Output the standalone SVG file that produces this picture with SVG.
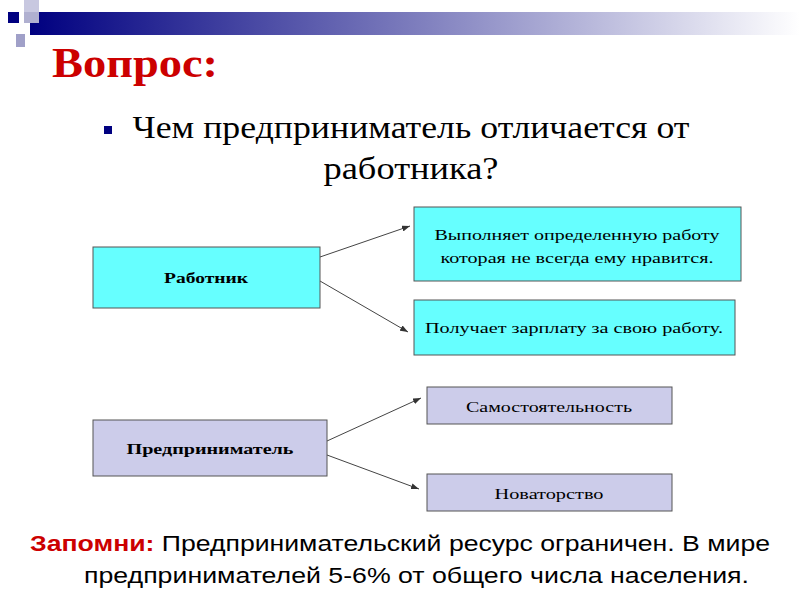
<svg xmlns="http://www.w3.org/2000/svg" width="800" height="600" viewBox="0 0 800 600">
<defs>
<linearGradient id="bar" x1="0" x2="1" y1="0" y2="0"><stop offset="0" stop-color="#000080"/><stop offset="0.5" stop-color="#7d7dbd"/><stop offset="1" stop-color="#ffffff"/></linearGradient>
<marker id="ah" markerWidth="8" markerHeight="6" refX="8" refY="3" orient="auto" markerUnits="userSpaceOnUse"><path d="M0,0 L8,3 L0,6 z" fill="#333"/></marker>
</defs>
<style>
.s{font-family:"Liberation Serif",serif;font-size:15px;fill:#000;text-anchor:middle}
.b{font-weight:bold}
.box{stroke:#555;stroke-width:1}
.cy{fill:#66ffff}.lv{fill:#ccccea}
.c line{stroke:#444;stroke-width:1;marker-end:url(#ah)}
</style>
<rect width="800" height="600" fill="#fff"/>
<rect x="30" y="12" width="770" height="23" fill="url(#bar)"/>
<rect x="8" y="12" width="11" height="11" fill="#000080"/>
<rect x="24" y="0" width="15" height="22" fill="#c8c8e0"/>
<rect x="24" y="12" width="15" height="11" fill="#b0b0d0"/>
<rect x="16" y="34" width="9" height="13" fill="#a0a0c8"/>
<text x="52" y="77" font-family="Liberation Serif,serif" font-size="42" font-weight="bold" fill="#cc0000" textLength="166" lengthAdjust="spacingAndGlyphs">Вопрос:</text>
<rect x="104" y="126" width="8" height="8" fill="#000080"/>
<text x="411" y="138" class="s" style="font-size:31px" textLength="557" lengthAdjust="spacingAndGlyphs">Чем предприниматель отличается от</text>
<text x="411" y="179" class="s" style="font-size:31px" textLength="175" lengthAdjust="spacingAndGlyphs">работника?</text>
<g class="c">
<line x1="320" y1="257" x2="410" y2="226"/>
<line x1="320" y1="281" x2="408" y2="332"/>
<line x1="327" y1="441" x2="421" y2="398"/>
<line x1="327" y1="455" x2="419" y2="489"/>
</g>
<g id="worker"><rect class="box cy" x="93" y="247" width="227" height="61"/><text class="s b" x="206" y="283" textLength="84" lengthAdjust="spacingAndGlyphs">Работник</text></g>
<g id="w1"><rect class="box cy" x="414" y="207" width="327" height="74"/><text class="s" x="577" y="240" textLength="285" lengthAdjust="spacingAndGlyphs">Выполняет определенную работу</text><text class="s" x="577" y="263" textLength="273" lengthAdjust="spacingAndGlyphs">которая не всегда ему нравится.</text></g>
<g id="w2"><rect class="box cy" x="414" y="300" width="321" height="55"/><text class="s" x="574" y="333" textLength="298" lengthAdjust="spacingAndGlyphs">Получает зарплату за свою работу.</text></g>
<g id="ent"><rect class="box lv" x="93" y="420" width="234" height="56"/><text class="s b" x="210" y="454" textLength="167" lengthAdjust="spacingAndGlyphs">Предприниматель</text></g>
<g id="e1"><rect class="box lv" x="427" y="387" width="245" height="37"/><text class="s" x="549" y="412" textLength="166" lengthAdjust="spacingAndGlyphs">Самостоятельность</text></g>
<g id="e2"><rect class="box lv" x="427" y="474" width="245" height="37"/><text class="s" x="549" y="499" textLength="109" lengthAdjust="spacingAndGlyphs">Новаторство</text></g>
<text x="30" y="551" font-family="Liberation Sans,sans-serif" font-size="22" fill="#000" textLength="740" lengthAdjust="spacingAndGlyphs"><tspan fill="#cc0000" font-weight="bold">Запомни:</tspan> Предпринимательский ресурс ограничен. В мире</text>
<text x="84" y="583" font-family="Liberation Sans,sans-serif" font-size="22" fill="#000" textLength="665" lengthAdjust="spacingAndGlyphs">предпринимателей 5-6% от общего числа населения.</text>
</svg>
